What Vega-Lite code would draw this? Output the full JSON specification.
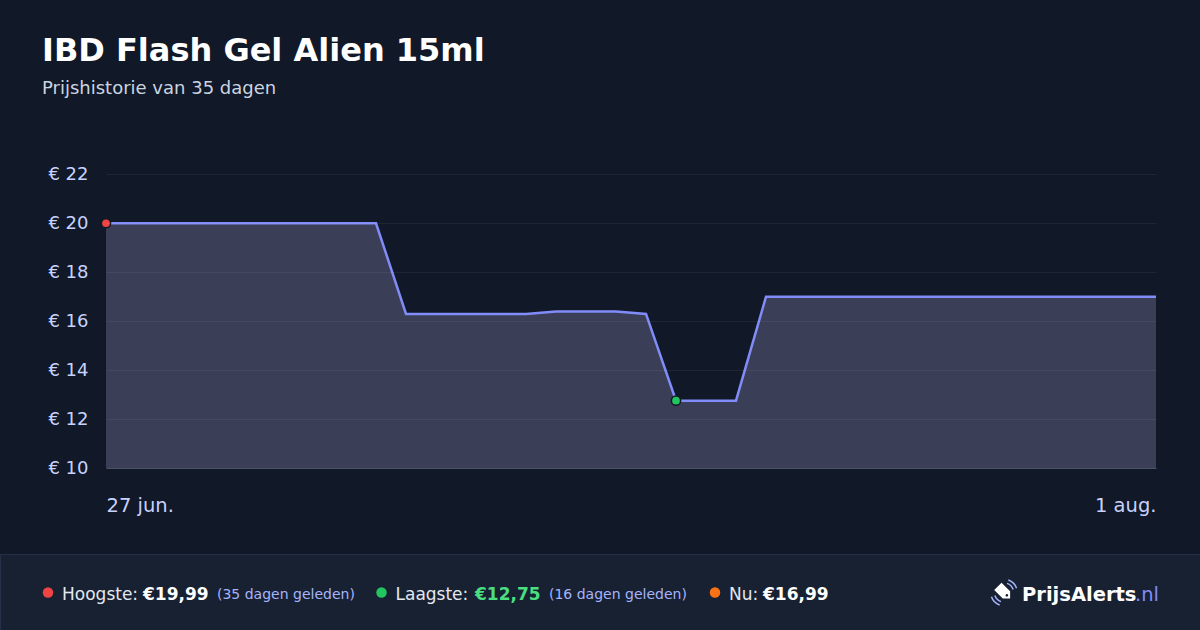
{
  "$schema": "https://vega.github.io/schema/vega-lite/v6.json",
  "background": "#111827",
  "padding": {"left": -1, "right": 0, "top": 35, "bottom": 0},
  "title": {
    "text": "IBD Flash Gel Alien 15ml",
    "subtitle": "Prijshistorie van 35 dagen",
    "anchor": "start",
    "frame": "group",
    "dx": 42,
    "offset": 66,
    "font": "DejaVu Sans",
    "fontSize": 32,
    "fontWeight": "bold",
    "color": "#ffffff",
    "subtitleFont": "DejaVu Sans",
    "subtitleFontSize": 18,
    "subtitleColor": "#cbd5e1",
    "subtitlePadding": 12
  },
  "datasets": {
    "prices": [
      {"date": "2025-06-27", "price": 19.99},
      {"date": "2025-06-28", "price": 19.99},
      {"date": "2025-06-29", "price": 19.99},
      {"date": "2025-06-30", "price": 19.99},
      {"date": "2025-07-01", "price": 19.99},
      {"date": "2025-07-02", "price": 19.99},
      {"date": "2025-07-03", "price": 19.99},
      {"date": "2025-07-04", "price": 19.99},
      {"date": "2025-07-05", "price": 19.99},
      {"date": "2025-07-06", "price": 19.99},
      {"date": "2025-07-07", "price": 16.29},
      {"date": "2025-07-08", "price": 16.29},
      {"date": "2025-07-09", "price": 16.29},
      {"date": "2025-07-10", "price": 16.29},
      {"date": "2025-07-11", "price": 16.29},
      {"date": "2025-07-12", "price": 16.39},
      {"date": "2025-07-13", "price": 16.39},
      {"date": "2025-07-14", "price": 16.39},
      {"date": "2025-07-15", "price": 16.29},
      {"date": "2025-07-16", "price": 12.75},
      {"date": "2025-07-17", "price": 12.75},
      {"date": "2025-07-18", "price": 12.75},
      {"date": "2025-07-19", "price": 16.99},
      {"date": "2025-07-20", "price": 16.99},
      {"date": "2025-07-21", "price": 16.99},
      {"date": "2025-07-22", "price": 16.99},
      {"date": "2025-07-23", "price": 16.99},
      {"date": "2025-07-24", "price": 16.99},
      {"date": "2025-07-25", "price": 16.99},
      {"date": "2025-07-26", "price": 16.99},
      {"date": "2025-07-27", "price": 16.99},
      {"date": "2025-07-28", "price": 16.99},
      {"date": "2025-07-29", "price": 16.99},
      {"date": "2025-07-30", "price": 16.99},
      {"date": "2025-07-31", "price": 16.99},
      {"date": "2025-08-01", "price": 16.99}
    ],
    "markers": [
      {"date": "2025-06-27", "price": 19.99, "kind": "Hoogste"},
      {"date": "2025-07-16", "price": 12.75, "kind": "Laagste"}
    ],
    "summary": [
      {"key": "hoog", "label": "Hoogste:", "value": "€19,99", "note": "(35 dagen geleden)"},
      {"key": "laag", "label": "Laagste:", "value": "€12,75", "note": "(16 dagen geleden)"},
      {"key": "nu", "label": "Nu:", "value": "€16,99", "note": ""}
    ],
    "brand": [
      {"name": "PrijsAlerts", "tld": ".nl"}
    ]
  },
  "spacing": 38,
  "vconcat": [
    {
      "width": 1200,
      "height": 294,
      "encoding": {
        "x": {
          "field": "date",
          "type": "temporal",
          "scale": {"type": "utc", "domain": ["2025-06-27", "2025-08-01"], "range": [106, 1156]},
          "axis": {
            "values": [
              {"year": 2025, "month": 6, "date": 27, "utc": true},
              {"year": 2025, "month": 8, "date": 1, "utc": true}
            ],
            "labelExpr": "utcdate(datum.value) + ' ' + ['jan.','feb.','mrt.','apr.','mei','jun.','jul.','aug.','sep.','okt.','nov.','dec.'][utcmonth(datum.value)]",
            "labelFlush": true,
            "grid": false,
            "ticks": false,
            "domain": true,
            "domainColor": "#4b5166",
            "labelFontSize": 19.5,
            "labelColor": "#c7d2fe",
            "labelPadding": 28,
            "title": null,
            "zindex": 1
          }
        },
        "y": {
          "field": "price",
          "type": "quantitative",
          "scale": {"domain": [10, 22], "nice": false, "zero": false},
          "axis": {
            "values": [10, 12, 14, 16, 18, 20, 22],
            "labelExpr": "'€ ' + datum.value",
            "offset": -106,
            "domain": false,
            "ticks": false,
            "gridColor": "#ffffff",
            "gridOpacity": 0.06,
            "labelFontSize": 18,
            "labelColor": "#c7d2fe",
            "labelPadding": 18,
            "title": null,
            "zindex": 1
          }
        }
      },
      "layer": [
        {
          "data": {"name": "prices"},
          "mark": {"type": "area", "color": "#3a3e57"},
          "encoding": {"y2": {"datum": 10}}
        },
        {
          "data": {"name": "prices"},
          "mark": {"type": "line", "color": "#818cf8", "strokeWidth": 2.5}
        },
        {
          "data": {"name": "markers"},
          "mark": {"type": "point", "filled": true, "size": 85, "stroke": "#111827", "strokeWidth": 1.5, "opacity": 1, "clip": false},
          "encoding": {
            "color": {
              "field": "kind",
              "type": "nominal",
              "scale": {"domain": ["Hoogste", "Laagste"], "range": ["#ef4444", "#22c55e"]},
              "legend": null
            }
          }
        }
      ]
    },
    {
      "width": 1200,
      "height": 77,
      "view": {"fill": "#182132", "stroke": "#263149", "strokeWidth": 1},
      "layer": [
        {
          "data": {"name": "summary"},
          "mark": {"type": "circle", "size": 110, "opacity": 1},
          "encoding": {
            "x": {"field": "key", "type": "nominal", "scale": {"type": "point", "domain": ["hoog", "laag", "nu"], "range": [48, 715], "padding": 0}, "axis": null},
            "color": {"field": "key", "type": "nominal", "scale": {"domain": ["hoog", "laag", "nu"], "range": ["#ef4444", "#22c55e", "#f97316"]}, "legend": null}
          }
        },
        {
          "data": {"name": "summary"},
          "mark": {"type": "text", "align": "left", "dx": 14, "dy": 2, "fontSize": 17, "color": "#e2e8f0"},
          "encoding": {
            "x": {"field": "key", "type": "nominal", "scale": {"type": "point", "domain": ["hoog", "laag", "nu"], "range": [48, 715], "padding": 0}, "axis": null},
            "text": {"field": "label"}
          }
        },
        {
          "data": {"name": "summary"},
          "transform": [{"filter": "datum.key != 'nu'"}],
          "mark": {"type": "text", "align": "left", "dy": 2, "fontSize": 17, "fontWeight": "bold"},
          "encoding": {
            "x": {"field": "key", "type": "nominal", "scale": {"type": "point", "domain": ["hoog", "laag"], "range": [143, 475], "padding": 0}, "axis": null},
            "text": {"field": "value"},
            "color": {"field": "key", "type": "nominal", "scale": {"domain": ["hoog", "laag"], "range": ["#ffffff", "#4ade80"]}, "legend": null}
          }
        },
        {
          "data": {"name": "summary"},
          "transform": [{"filter": "datum.key == 'nu'"}],
          "mark": {"type": "text", "align": "left", "dy": 2, "fontSize": 17, "fontWeight": "bold", "color": "#ffffff"},
          "encoding": {
            "x": {"field": "key", "type": "nominal", "scale": {"type": "point", "domain": ["nu"], "range": [763, 763], "padding": 0}, "axis": null},
            "text": {"field": "value"}
          }
        },
        {
          "data": {"name": "summary"},
          "transform": [{"filter": "datum.key != 'nu'"}],
          "mark": {"type": "text", "align": "left", "dy": 2, "fontSize": 14, "color": "#a5b4fc"},
          "encoding": {
            "x": {"field": "key", "type": "nominal", "scale": {"type": "point", "domain": ["hoog", "laag"], "range": [217, 549], "padding": 0}, "axis": null},
            "text": {"field": "note"}
          }
        },
        {
          "data": {"name": "brand"},
          "mark": {
            "type": "point",
            "shape": "M0,-1 L0.6,-0.4 L0.6,1 L-0.6,1 L-0.6,-0.4 Z M0,-0.62 A0.15,0.15 0 1 0 0,-0.32 A0.15,0.15 0 1 0 0,-0.62 Z",
            "filled": true,
            "color": "#ffffff",
            "size": 300,
            "angle": 135,
            "opacity": 1
          },
          "encoding": {
            "x": {"field": "name", "type": "nominal", "scale": {"type": "point", "domain": ["PrijsAlerts"], "range": [1004, 1004], "padding": 0}, "axis": null}
          }
        },
        {
          "data": {"name": "brand"},
          "mark": {
            "type": "point",
            "shape": "M0.35,-1.05 A1.1,1.1 0 0 1 1.05,-0.35 M0.5,-1.45 A1.53,1.53 0 0 1 1.45,-0.5 M-0.35,1.05 A1.1,1.1 0 0 1 -1.05,0.35 M-0.5,1.45 A1.53,1.53 0 0 1 -1.45,0.5",
            "filled": false,
            "stroke": "#a5b4fc",
            "strokeWidth": 1.5,
            "size": 300,
            "opacity": 1
          },
          "encoding": {
            "x": {"field": "name", "type": "nominal", "scale": {"type": "point", "domain": ["PrijsAlerts"], "range": [1004, 1004], "padding": 0}, "axis": null}
          }
        },
        {
          "data": {"name": "brand"},
          "mark": {"type": "text", "align": "left", "dy": 2, "fontSize": 19.5, "fontWeight": "bold", "color": "#ffffff"},
          "encoding": {
            "x": {"field": "name", "type": "nominal", "scale": {"type": "point", "domain": ["PrijsAlerts"], "range": [1022, 1022], "padding": 0}, "axis": null},
            "text": {"field": "name"}
          }
        },
        {
          "data": {"name": "brand"},
          "mark": {"type": "text", "align": "left", "dx": 113, "dy": 2, "fontSize": 19.5, "color": "#818cf8"},
          "encoding": {
            "x": {"field": "name", "type": "nominal", "scale": {"type": "point", "domain": ["PrijsAlerts"], "range": [1022, 1022], "padding": 0}, "axis": null},
            "text": {"field": "tld"}
          }
        }
      ],
      "resolve": {"scale": {"x": "independent", "color": "independent"}}
    }
  ],
  "config": {
    "view": {"stroke": null},
    "font": "DejaVu Sans",
    "text": {"font": "DejaVu Sans"},
    "axis": {"labelFont": "DejaVu Sans"}
  }
}
